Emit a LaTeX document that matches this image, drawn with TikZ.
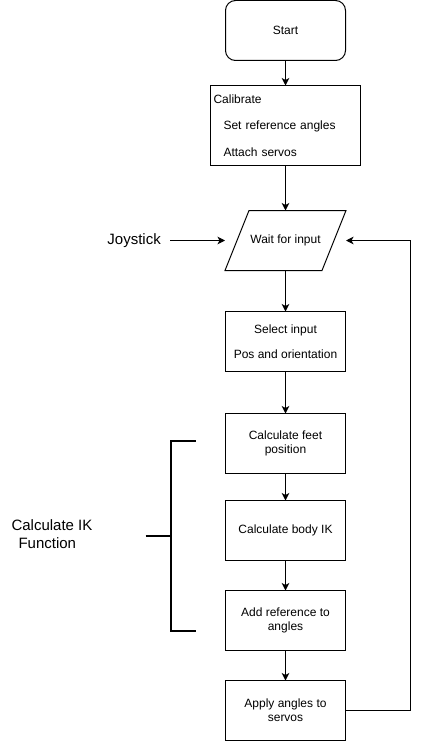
\documentclass[tikz,border=0pt]{standalone}
\usepackage{fontspec}
\setmainfont{Liberation Sans}
\usetikzlibrary{positioning, arrows.meta}

\begin{document}
\begin{tikzpicture}[x=1pt, y=-1pt, node distance=30pt,
  every node/.style={font=\fontsize{12}{14}\selectfont},
  box/.style={draw, line width=1pt, minimum width=120pt, minimum height=60pt, inner sep=0pt, outer sep=0pt, align=center},
  startbox/.style={box, rounded corners=10pt},
  iobox/.style={minimum width=121pt, minimum height=60pt, inner sep=0pt, outer sep=0pt},
  bigtext/.style={font=\fontsize{15}{17.7}\selectfont},
  flow/.style={line width=1pt, -{Stealth[length=7.5pt, width=7.5pt, inset=2pt]}},
  bracket/.style={line width=2pt}]
\useasboundingbox (0,0) rectangle (420,741);
\node[startbox] (start) at (285.5,30.5) {Start};
\node[box, minimum width=150pt, minimum height=80pt, below=25pt of start, text width=144pt, align=left,
  font=\fontsize{12}{26.5}\selectfont] (calib)
  {Calibrate\\\hspace*{10pt}Set reference angles\\\hspace*{10pt}Attach servos};
\node[iobox, below=45pt of calib] (wait) {Wait for input};
\draw[line width=1pt] ([xshift=24pt]wait.north west) -- (wait.north east)
  -- ([xshift=-24pt]wait.south east) -- (wait.south west) -- cycle;
\node[box, below=41pt of wait, font=\fontsize{12}{25.5}\selectfont] (select) {Select input\\Pos and orientation};
\node[box, below=42pt of select] (feet) {Calculate feet\\position};
\node[box, below=27pt of feet] (body) {Calculate body IK};
\node[box, below=of body] (add) {Add reference to\\angles};
\node[box, below=of add] (apply) {Apply angles to\\servos};
\node[bigtext, inner xsep=9pt, left=55pt of wait] (joy) {Joystick};
\coordinate (brk) at (170.5,535.5);
\node[bigtext, align=left, anchor=west] (ik) at (8,534) {Calculate IK\\\hspace*{7pt}Function};
\draw[bracket] ([xshift=25pt,yshift=-95pt]brk) -- ([yshift=-95pt]brk) -- ([yshift=95pt]brk) -- ([xshift=25pt,yshift=95pt]brk);
\draw[bracket] ([xshift=-25pt]brk) -- (brk);
\draw[flow] (start) -- (calib);
\draw[flow] (calib) -- (wait);
\draw[flow] (wait) -- (select);
\draw[flow] (select) -- (feet);
\draw[flow] (feet) -- (body);
\draw[flow] (body) -- (add);
\draw[flow] (add) -- (apply);
\draw[flow] (joy) -- (wait);
\draw[flow] (apply.east) -- ++(65,0) |- (wait.east);
\end{tikzpicture}
\end{document}
